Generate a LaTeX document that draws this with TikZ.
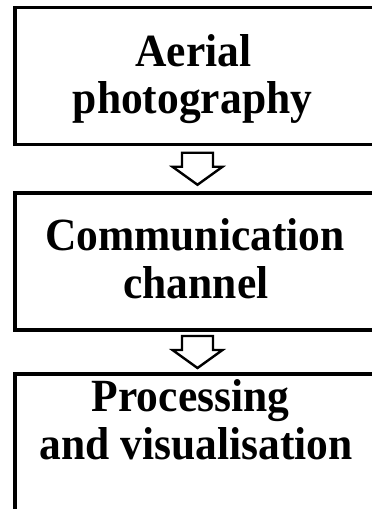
\documentclass[tikz,border=0pt]{standalone}
\usepackage{fontspec}
\usepackage{graphicx}
\setmainfont{Liberation Serif}
\usetikzlibrary{calc}
\newcommand{\tallify}[1]{\scalebox{1}[1.06]{#1}}
\tikzset{
  box/.style={draw=black, line width=3.3pt, rectangle, minimum width=365pt, minimum height=137pt, inner sep=0pt, outer sep=0pt},
  label line/.style={anchor=base, inner sep=0pt, font=\fontsize{43.5}{47}\selectfont\bfseries},
  blockarrow/.style={draw=black, line width=2.4pt, fill=white, line join=miter}
}
\begin{document}
\begin{tikzpicture}[x=1pt,y=-1pt]
\useasboundingbox (0,0) rectangle (372,509);
\clip (0,0) rectangle (372,509);
\node[box] (b1) at (197.5,76) {};
\node[box] (b2) at (197.5,261.5) {};
\node[box, minimum height=146pt] (b3) at (197.5,447) {};
\node[label line] (t1a) at (193.5,66.5) {\tallify{Aerial}};
\node[label line] (t1b) at (192.5,113.5) {\tallify{photography}};
\node[label line] (t2a) at (195,250.5) {\tallify{Communication}};
\node[label line] (t2b) at (196,298.5) {\tallify{channel}};
\node[label line] (t3a) at (190.5,411) {\tallify{Processing}};
\node[label line] (t3b) at (196,459) {\tallify{and visualisation}};
\coordinate (m1) at ($(b1.south)!0.5!(b2.north)$);
\coordinate (m2) at ($(b2.south)!0.5!(b3.north)$);
\foreach \m in {m1,m2}{
  \draw[blockarrow] ($(\m)+(-15.5,-16)$) -- ++(31,0) -- ++(0,14) -- ++(9.5,0) -- ++(-25,18) -- ++(-25,-18) -- ++(9.5,0) -- cycle;
}
\end{tikzpicture}
\end{document}
